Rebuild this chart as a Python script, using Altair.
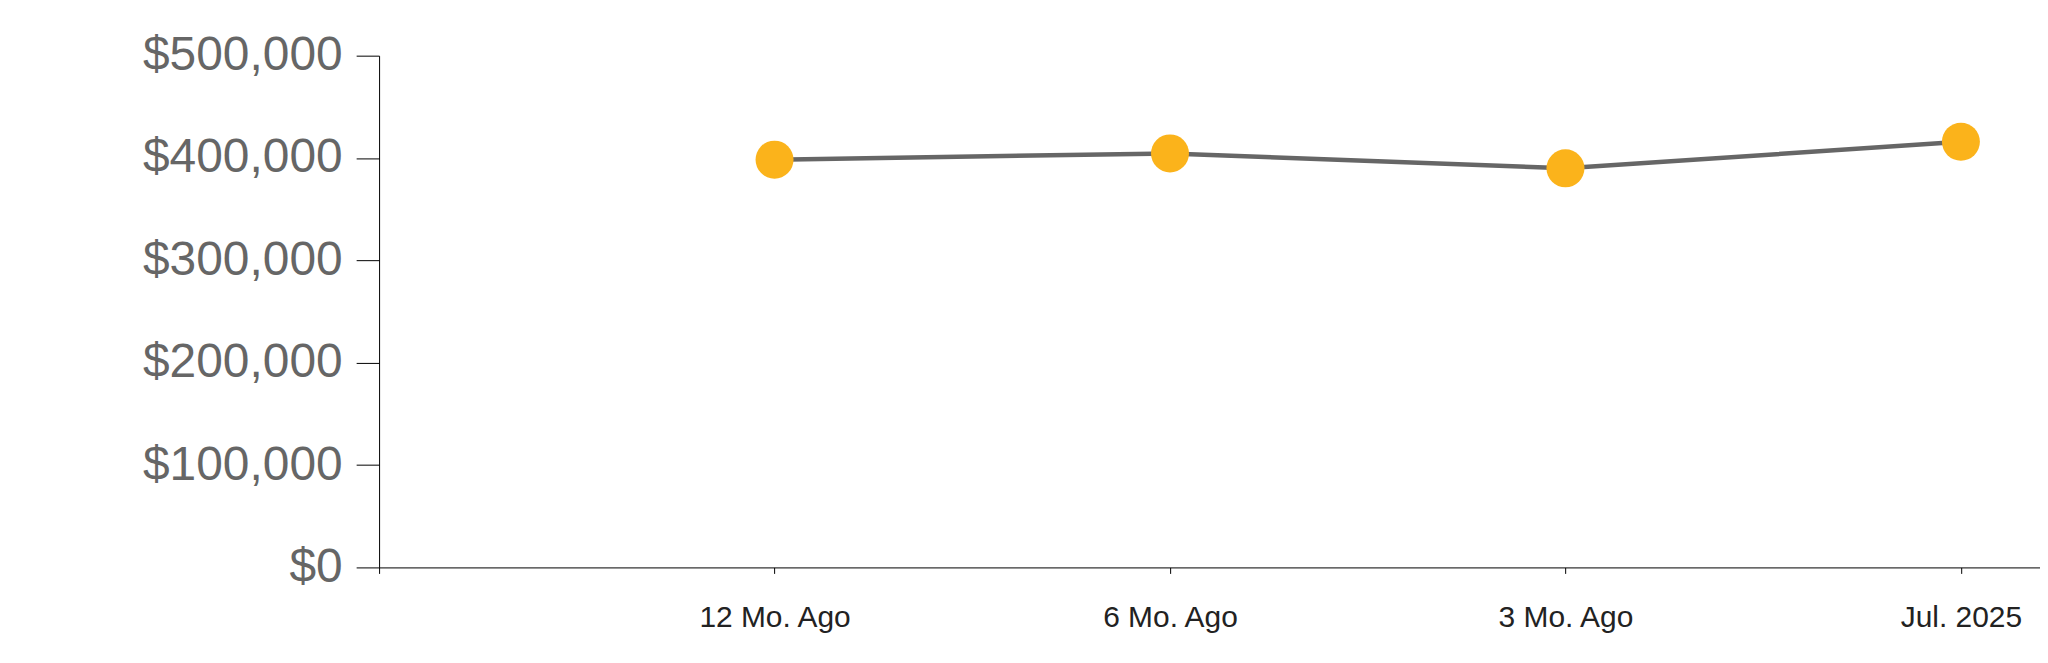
import altair as alt
import pandas as pd

periods = ["12 Mo. Ago", "6 Mo. Ago", "3 Mo. Ago", "Jul. 2025"]
values = [398400, 404500, 389900, 415900]
y_ticks = [0, 100000, 200000, 300000, 400000, 500000]

df = pd.DataFrame({
    "period": periods,
    "idx": list(range(1, len(periods) + 1)),
    "value": values,
})

label_expr = ("datum.value == 0 ? '' : " +
              "[" + ",".join("'" + p + "'" for p in [""] + periods) + "][datum.value]")

x = alt.X("idx:Q",
          scale=alt.Scale(domain=[0, 4.2], nice=False, zero=False),
          axis=alt.Axis(values=[0, 1, 2, 3, 4], labelExpr=label_expr, title=None,
                        grid=False, domainColor="#000000", tickColor="#000000",
                        tickSize=6, labelFont="Liberation Sans", labelFontSize=30,
                        labelColor="#222222", labelPadding=29, labelFlush=False,
                        labelOverlap=False, labelLimit=0))
y = alt.Y("value:Q",
          scale=alt.Scale(domain=[0, 500000], nice=False),
          axis=alt.Axis(values=y_ticks, format="$,.0f", title=None, grid=False,
                        domainColor="#000000", tickColor="#000000", tickSize=23,
                        labelFont="Liberation Sans", labelFontSize=48,
                        labelColor="#666666", labelPadding=14, labelLimit=0))

base = alt.Chart(df).encode(x=x, y=y)
line = base.mark_line(color="#666666", strokeWidth=4.5)
pts = base.mark_circle(color="#FBB31B", opacity=1, size=1450)

chart = (line + pts).properties(
    width=1665, height=513,
    autosize=alt.AutoSizeParams(type="none"),
    padding={"left": 372, "top": 47, "right": 0, "bottom": 80},
).configure_view(stroke=None)

chart.save("out.html", embed_options={"renderer": "svg", "actions": False})
